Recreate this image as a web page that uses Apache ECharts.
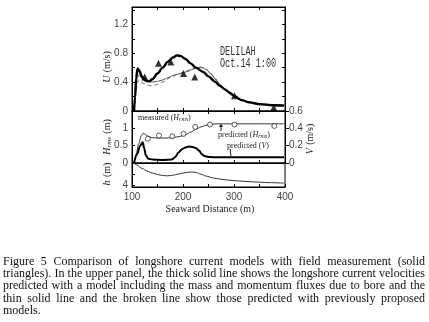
<!DOCTYPE html>
<html><head><meta charset="utf-8">
<script src="https://cdn.jsdelivr.net/npm/echarts@6/dist/echarts.min.js"></script>
<style>
html,body{margin:0;padding:0;background:#fff;}
#chart{position:absolute;left:0;top:0;width:429px;height:322px;}
#cap{position:absolute;left:3px;top:255px;width:422px;font-family:'Liberation Serif','Times New Roman',serif;font-size:11px;line-height:12.2px;color:#111;}
#cap .l{text-align:justify;text-align-last:justify;white-space:nowrap;}
#cap .last{text-align:left;}
#meas{position:absolute;visibility:hidden;white-space:nowrap;font-family:'Liberation Serif',serif;}
</style></head>
<body>
<div id="chart"></div>
<div id="cap">
<div class="l">Figure 5 Comparison of longshore current models with field measurement (solid</div>
<div class="l">triangles). In the upper panel, the thick solid line shows the longshore current velocities</div>
<div class="l">predicted with a model including the mass and momentum fluxes due to bore and the</div>
<div class="l">thin solid line and the broken line show those predicted with previously proposed</div>
<div class="last">models.</div>
</div>
<span id="meas"></span>
<script>
// ---------- data ----------
const xTickLabels = ['100', '200', '300', '400'];
const uTickLabels = ['0', '0.4', '0.8', '1.2'];
const hrmsTickLabels = ['0', '0.5', '1'];
const vTickLabels = ['0', '0.2', '0.4', '0.6'];
const depthTickLabels = ['4'];

// upper panel: longshore current U (m/s)
const boreX = [104,106,108,111,114,120,127,133,140,150,160,170,180,188,196,205,215,225,240,250,262,272,282,292,302,315,330,350,375,398];
const boreU = [0,0.2,0.45,0.59,0.56,0.47,0.42,0.41,0.44,0.52,0.6,0.68,0.74,0.77,0.76,0.72,0.66,0.6,0.54,0.48,0.41,0.35,0.3,0.25,0.2,0.15,0.12,0.095,0.08,0.075];
const thinX = [104,107,110,113,117,123,130,140,150,160,170,180,190,200,210,220,230,238,246,255,265,275,285,295,305,320,340,360,380,398];
const thinU = [0,0.25,0.45,0.5,0.47,0.43,0.41,0.4,0.41,0.43,0.46,0.49,0.51,0.53,0.55,0.58,0.6,0.6,0.57,0.51,0.43,0.35,0.28,0.23,0.19,0.14,0.11,0.095,0.09,0.085];
const dashX = [104,107,110,113,118,125,135,145,160,175,190,205,220,232,242,252,262,272,282,295,310,330,360,398];
const dashU = [0,0.2,0.38,0.43,0.4,0.37,0.35,0.36,0.4,0.46,0.51,0.55,0.59,0.61,0.6,0.54,0.46,0.37,0.29,0.22,0.16,0.12,0.085,0.07];
const triX = [125,152,176,201,223,301,378];
const triU = [0.47,0.66,0.68,0.52,0.47,0.21,0.05];

// middle panel: wave height Hrms (m) and predicted V (m/s)
const hrmsX = [104,108,113,118,122,125,130,140,150,165,180,195,205,215,225,235,245,255,270,300,350,398];
const hrmsY = [0,0.25,0.55,0.78,0.86,0.84,0.78,0.73,0.72,0.72,0.73,0.77,0.82,0.89,0.97,1.04,1.09,1.12,1.13,1.13,1.13,1.13];
const hmX = [131,153,179,201,224,253,301,379];
const hmY = [0.7,0.79,0.77,0.84,1.04,1.11,1.11,1.07];
const vX = [104,110,116,121,124,127,132,140,160,178,185,191,198,205,212,219,226,232,237,242,250,260,300,350,398];
const vY = [0,0.1,0.2,0.24,0.17,0.09,0.05,0.04,0.035,0.04,0.07,0.12,0.16,0.18,0.19,0.185,0.17,0.14,0.1,0.08,0.07,0.066,0.065,0.065,0.065];

// lower panel: depth h (m)
const depX = [104,110,120,130,140,150,160,170,180,190,200,210,218,226,235,245,260,275,290,310,330,350,370,398];
const depH = [0,0.4,1.0,1.5,1.85,2.1,2.3,2.35,2.25,2.05,1.85,1.7,1.65,1.75,2.05,2.4,2.75,2.98,3.15,3.3,3.42,3.52,3.6,3.68];

// ---------- helpers ----------
const zip = (a, b) => a.map((v, i) => [v, b[i]]);
const pick = labels => v => { const s = labels.find(t => Math.abs(parseFloat(t) - v) < 1e-6); return s === undefined ? '' : s; };

// caption fitting
(function(){
  const m = document.getElementById('meas');
  m.textContent = 'triangles). In the upper panel, the thick solid line shows the longshore current velocities';
  let f = 12;
  for (; f > 8; f -= 0.1) { m.style.fontSize = f + 'px'; if (m.getBoundingClientRect().width <= 421) break; }
  document.getElementById('cap').style.fontSize = f + 'px';
})();

const L = 132, W = 153;
const tickFont = { fontFamily: 'Liberation Sans', fontSize: 10, color: '#444' };
function xa(grid, pos, labels) {
  return { type: 'value', gridIndex: grid, position: pos, min: 100, max: 400, interval: 50,
    axisLine: { show: true, onZero: false, lineStyle: { color: '#000', width: 1 } },
    axisTick: { show: true, inside: true, length: 3, lineStyle: { color: '#000' } },
    axisLabel: labels ? Object.assign({ show: true, margin: 5, formatter: pick(labels) }, tickFont) : { show: false },
    splitLine: { show: false } };
}
function ya(grid, pos, min, max, interval, labels, opts) {
  return Object.assign({ type: 'value', gridIndex: grid, position: pos, min: min, max: max, interval: interval,
    axisLine: { show: true, onZero: false, lineStyle: { color: '#000', width: 1 } },
    axisTick: { show: true, inside: true, length: 3, lineStyle: { color: '#000' } },
    axisLabel: labels ? Object.assign({ show: true, margin: 4, formatter: pick(labels), showMinLabel: true, showMaxLabel: true }, tickFont) : { show: false },
    splitLine: { show: false } }, opts || {});
}

const chart = echarts.init(document.getElementById('chart'), null, { renderer: 'canvas' });
const gridBase = { left: L, width: W, show: true, borderColor: '#000', borderWidth: 1, containLabel: false, outerBoundsMode: 'none' };
const serif = 'Liberation Serif';
const it = { fontStyle: 'italic', fontFamily: serif, fontSize: 10, fill: '#222' };
const sub = { fontStyle: 'italic', fontFamily: serif, fontSize: 7, fill: '#222', padding: [4, 0, 0, 0] };
const norm = { fontFamily: serif, fontSize: 10, fill: '#222' };
const annRich = {
  n: { fontFamily: serif, fontSize: 8, fill: '#222' },
  i: { fontFamily: serif, fontStyle: 'italic', fontSize: 8, fill: '#222' },
  s: { fontFamily: serif, fontStyle: 'italic', fontSize: 6, fill: '#222', padding: [3, 0, 0, 0] }
};

chart.setOption({
  animation: false,
  backgroundColor: '#fff',
  grid: [
    Object.assign({ top: 7, height: 104 }, gridBase),
    Object.assign({ top: 111, height: 52 }, gridBase),
    Object.assign({ top: 163, height: 24 }, gridBase)
  ],
  xAxis: [
    xa(0, 'bottom'), xa(0, 'top'),
    xa(1, 'bottom'), xa(1, 'top'),
    xa(2, 'bottom', xTickLabels)
  ],
  yAxis: [
    ya(0, 'left', 0, 1.44, 0.2, uTickLabels),
    ya(0, 'right', 0, 1.44, 0.2, null),
    ya(1, 'left', 0, 1.5, 0.5, hrmsTickLabels),
    ya(1, 'right', 0, 0.6, 0.2, vTickLabels, { axisTick: { show: true, inside: false, length: 4, lineStyle: { color: '#000' } } }),
    ya(2, 'left', 0, 4.4, 2, depthTickLabels, { inverse: true })
  ],
  series: [
    { type: 'line', xAxisIndex: 0, yAxisIndex: 0, data: zip(dashX, dashU), showSymbol: false, smooth: 0.3, smoothMonotone: 'x',
      lineStyle: { color: '#666', width: 1, type: [4, 3] }, z: 2 },
    { type: 'line', xAxisIndex: 0, yAxisIndex: 0, data: zip(thinX, thinU), showSymbol: false, smooth: 0.3, smoothMonotone: 'x',
      lineStyle: { color: '#555', width: 1 }, z: 3 },
    { type: 'line', xAxisIndex: 0, yAxisIndex: 0, data: zip(boreX, boreU), showSymbol: false, smooth: 0.3, smoothMonotone: 'x',
      lineStyle: { color: '#000', width: 2.4 }, z: 4 },
    { type: 'scatter', xAxisIndex: 0, yAxisIndex: 0, data: zip(triX, triU), symbol: 'triangle', symbolSize: 7,
      itemStyle: { color: '#000' }, z: 5 },
    { type: 'line', xAxisIndex: 2, yAxisIndex: 2, data: zip(hrmsX, hrmsY), showSymbol: false, smooth: 0.3, smoothMonotone: 'x',
      lineStyle: { color: '#333', width: 1 }, z: 3 },
    { type: 'scatter', xAxisIndex: 2, yAxisIndex: 2, data: zip(hmX, hmY), symbol: 'circle', symbolSize: 5,
      itemStyle: { color: '#fff', borderColor: '#333', borderWidth: 1 }, z: 5 },
    { type: 'line', xAxisIndex: 2, yAxisIndex: 3, data: zip(vX, vY), showSymbol: false, smooth: 0.3, smoothMonotone: 'x',
      lineStyle: { color: '#000', width: 2 }, z: 4 },
    { type: 'line', xAxisIndex: 4, yAxisIndex: 4, data: zip(depX, depH), showSymbol: false, smooth: 0.3, smoothMonotone: 'x',
      lineStyle: { color: '#333', width: 1 }, z: 3 }
  ],
  graphic: [
    { type: 'text', x: 107, y: 67, rotation: Math.PI / 2, style: { text: '{i|U} {n|(m/s)}', rich: { i: it, n: norm }, align: 'center', verticalAlign: 'middle' } },
    { type: 'text', x: 107, y: 137, rotation: Math.PI / 2, style: { text: '{i|H}{s|rms} {n|(m)}', rich: { i: it, s: sub, n: norm }, align: 'center', verticalAlign: 'middle' } },
    { type: 'text', x: 107, y: 174, rotation: Math.PI / 2, style: { text: '{i|h} {n|(m)}', rich: { i: it, n: norm }, align: 'center', verticalAlign: 'middle' } },
    { type: 'text', x: 310, y: 139, rotation: Math.PI / 2, style: { text: '{i|V} {n|(m/s)}', rich: { i: it, n: norm }, align: 'center', verticalAlign: 'middle' } },
    { type: 'text', x: 210, y: 209, style: { text: 'Seaward Distance (m)', font: '10px "Liberation Serif"', fill: '#222', align: 'center', verticalAlign: 'middle' } },
    { type: 'text', x: 220, y: 52, scaleY: 1.5, style: { text: 'DELILAH', font: '8.5px "Liberation Mono"', fill: '#333', align: 'left', verticalAlign: 'middle' } },
    { type: 'text', x: 220, y: 64, scaleY: 1.5, style: { text: 'Oct.14 1:00', font: '8.5px "Liberation Mono"', fill: '#333', align: 'left', verticalAlign: 'middle' } },
    { type: 'text', x: 138, y: 118, style: { text: '{n|measured (}{i|H}{s|rms}{n|)}', rich: annRich, align: 'left', verticalAlign: 'middle' } },
    { type: 'text', x: 218, y: 135, style: { text: '{n|predicted (}{i|H}{s|rms}{n|)}', rich: annRich, align: 'left', verticalAlign: 'middle' } },
    { type: 'text', x: 227, y: 145.5, style: { text: '{n|predicted (}{i|V}{n|)}', rich: annRich, align: 'left', verticalAlign: 'middle' } },
    { type: 'line', shape: { x1: 221, y1: 131, x2: 221, y2: 125 }, style: { stroke: '#222', lineWidth: 1 } },
    { type: 'polygon', shape: { points: [[219, 127], [223, 127], [221, 123.5]] }, style: { fill: '#222' } },
    { type: 'line', shape: { x1: 230, y1: 149, x2: 231, y2: 156 }, style: { stroke: '#222', lineWidth: 1 } }
  ]
});
</script>
</body></html>
